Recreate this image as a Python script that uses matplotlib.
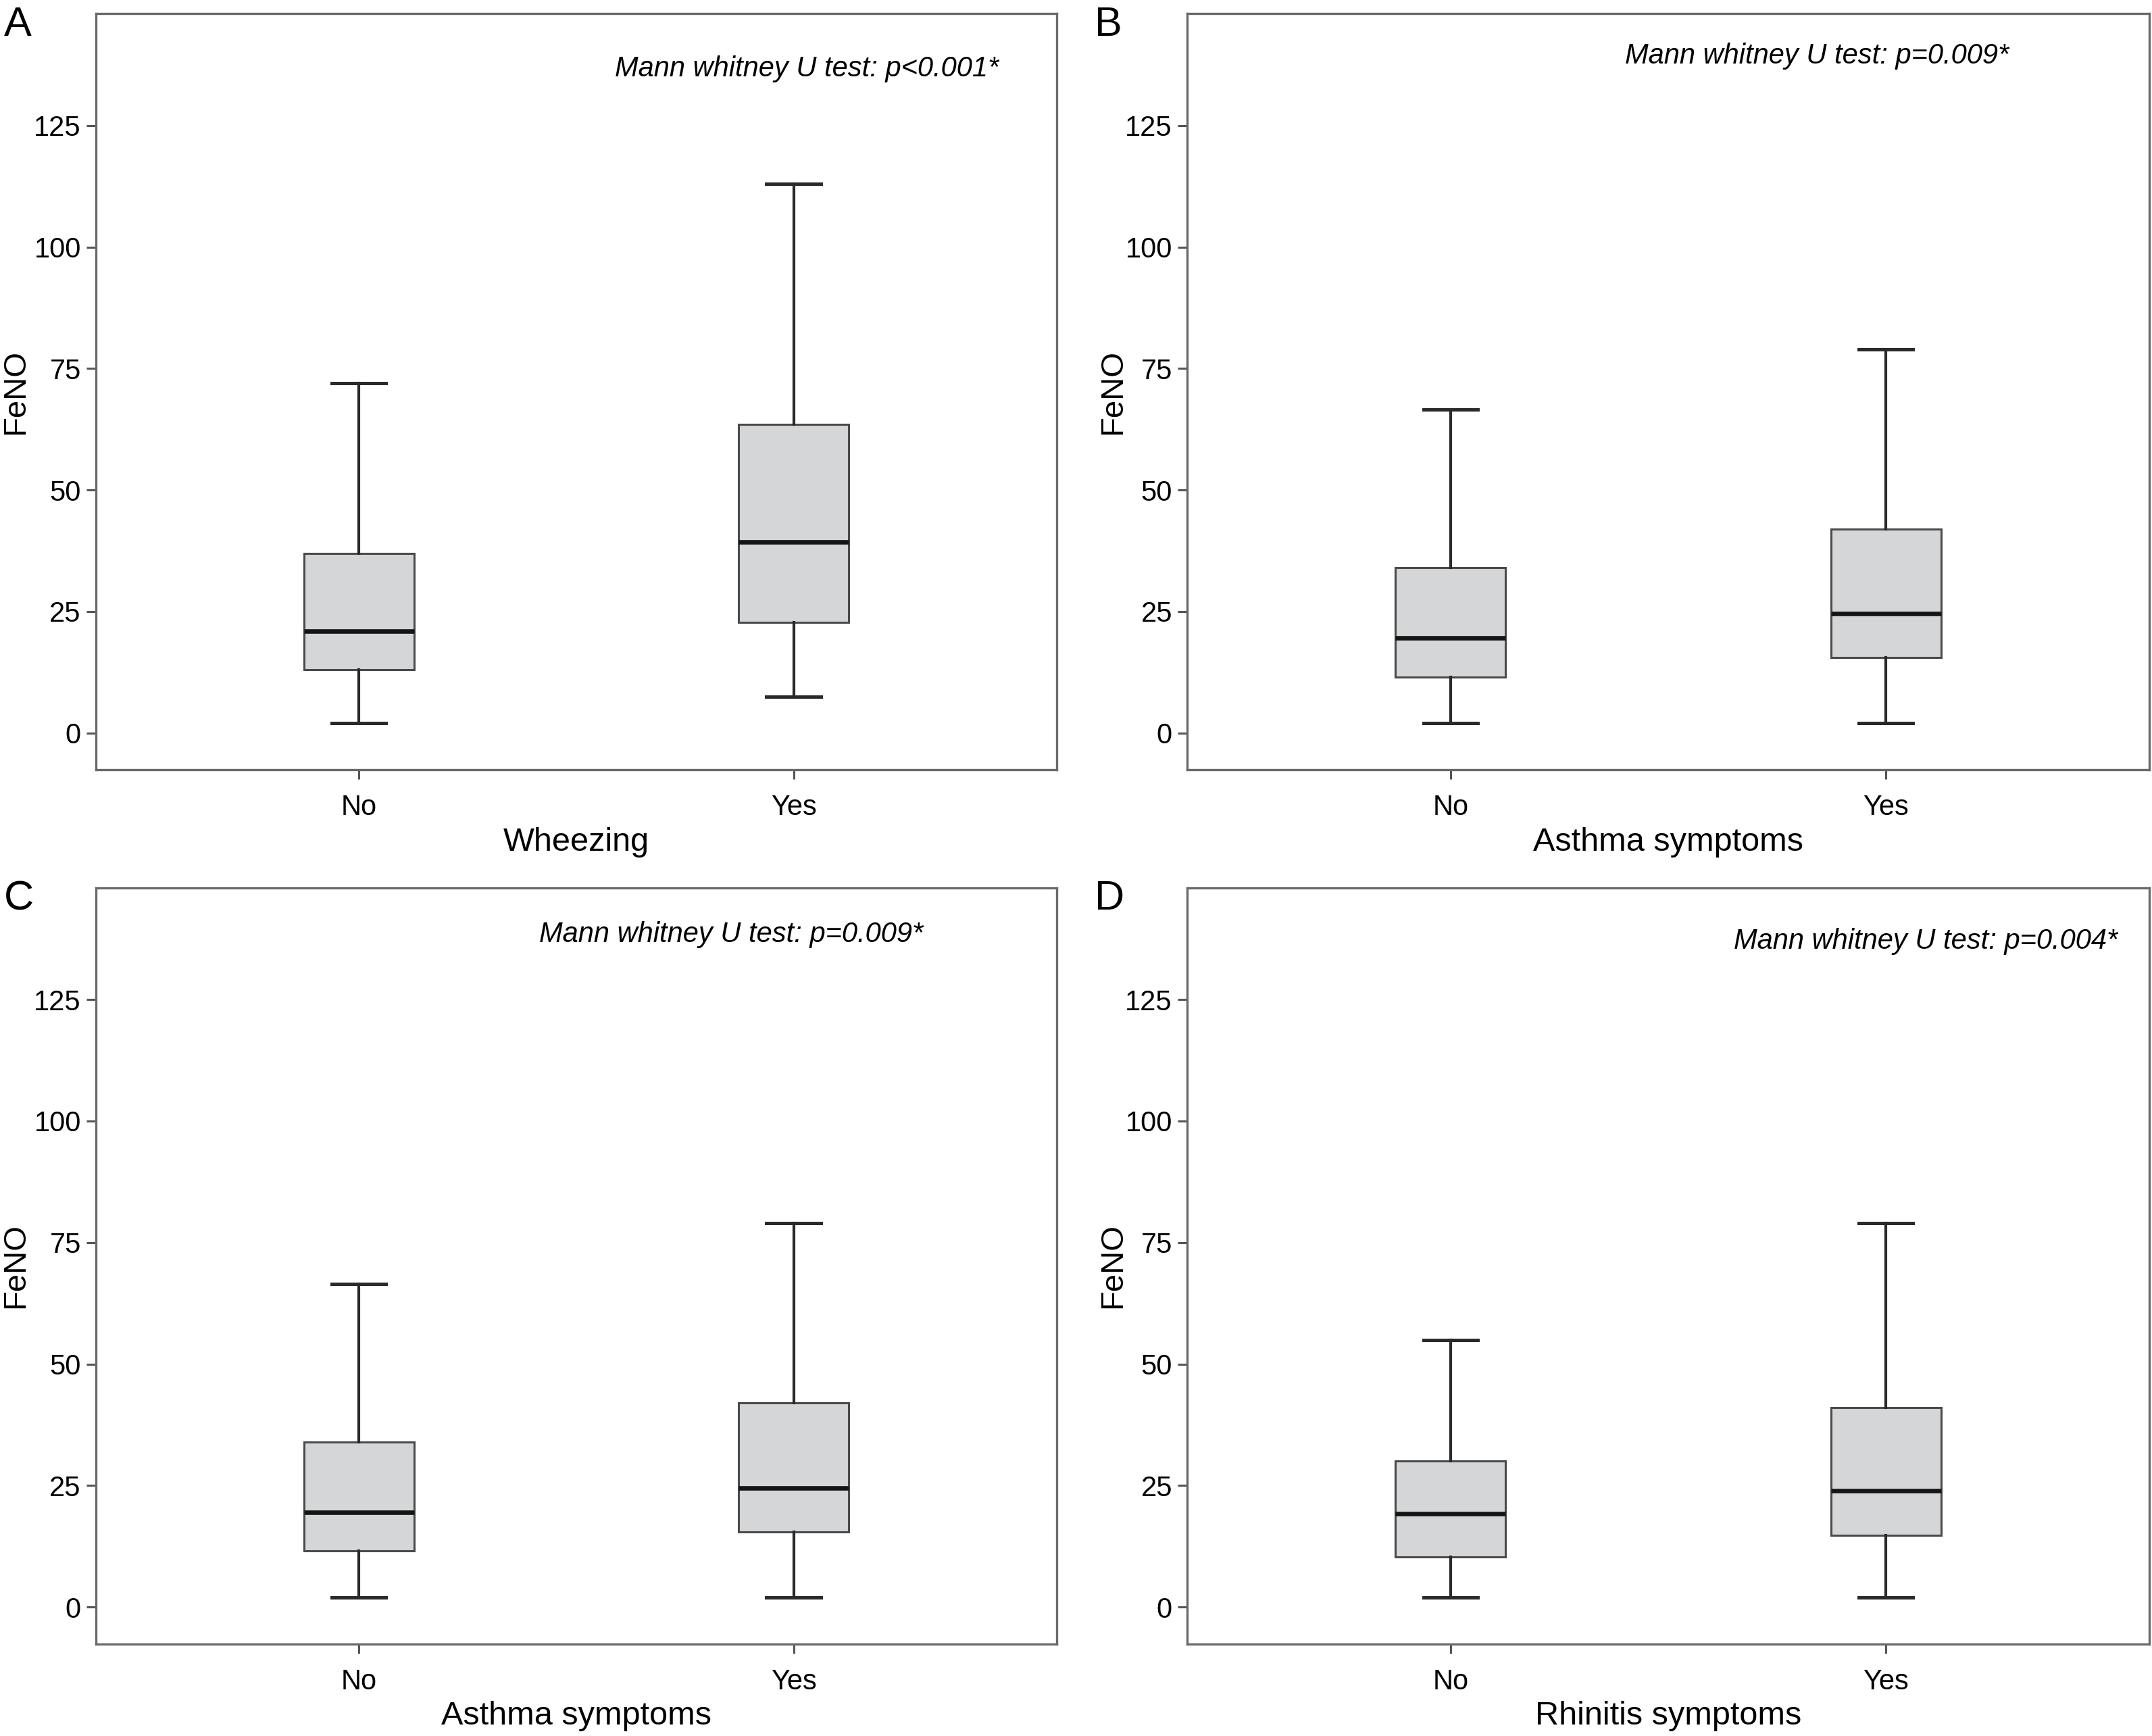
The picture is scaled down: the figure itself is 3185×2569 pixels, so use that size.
import matplotlib
matplotlib.use("Agg")
import matplotlib.pyplot as plt

plt.rcParams["font.family"] = ["Liberation Sans", "DejaVu Sans"]

# five-number summaries: low whisker, Q1, median, Q3, high whisker
groups = ["No", "Yes"]
panel_letters = ["A", "B", "C", "D"]
x_titles = ["Wheezing", "Asthma symptoms", "Asthma symptoms", "Rhinitis symptoms"]
p_texts = [
    "Mann whitney U test: p<0.001*",
    "Mann whitney U test: p=0.009*",
    "Mann whitney U test: p=0.009*",
    "Mann whitney U test: p=0.004*",
]
no_stats = [
    [2, 13, 21, 37, 72],
    [2, 11.5, 19.5, 34, 66.5],
    [2, 11.5, 19.5, 34, 66.5],
    [2, 10.3, 19.2, 30, 55],
]
yes_stats = [
    [7.5, 22.8, 39.3, 63.5, 113],
    [2, 15.5, 24.5, 42, 79],
    [2, 15.5, 24.5, 42, 79],
    [2, 14.8, 24, 41, 79],
]
y_ticks = [0, 25, 50, 75, 100, 125]

# axes placement [left, bottom, width, height] and text anchors
positions = [
    [0.0446, 0.5565, 0.4464, 0.4356],
    [0.5517, 0.5565, 0.4470, 0.4356],
    [0.0446, 0.0530, 0.4464, 0.4356],
    [0.5517, 0.0530, 0.4470, 0.4356],
]
text_xy = [(0.94, 0.927), (0.854, 0.944), (0.861, 0.938), (0.967, 0.929)]
ylabel_x = [-0.068, -0.062, -0.068, -0.062]

fig = plt.figure(figsize=(3185 / 200, 2569 / 200), dpi=200)

for i in range(4):
    ax = fig.add_axes(positions[i])
    stats = []
    for name, s in zip(groups, [no_stats[i], yes_stats[i]]):
        stats.append({"label": name, "whislo": s[0], "q1": s[1], "med": s[2],
                      "q3": s[3], "whishi": s[4], "fliers": []})
    ax.bxp(stats, positions=[1, 2], widths=0.253, patch_artist=True,
           showfliers=False,
           boxprops=dict(facecolor="#d5d6d8", edgecolor="#4a4a4a", linewidth=1.1),
           medianprops=dict(color="#151515", linewidth=2.4),
           whiskerprops=dict(color="#2a2a2a", linewidth=1.5),
           capprops=dict(color="#2a2a2a", linewidth=1.8),
           capwidths=0.125)
    ax.set_xlim(0.395, 2.605)
    ax.set_ylim(-7.6, 148)
    ax.set_yticks(y_ticks)
    ax.tick_params(axis="both", labelsize=15, color="#555555", length=5,
                   width=1.1)
    ax.tick_params(axis="y", pad=3)
    ax.tick_params(axis="x", pad=8)
    for sp in ax.spines.values():
        sp.set_color("#6a6a6a")
        sp.set_linewidth(1.2)
    ax.set_ylabel("FeNO", fontsize=17)
    ax.yaxis.set_label_coords(ylabel_x[i], 0.5)
    ax.set_xlabel(x_titles[i], fontsize=17.5, labelpad=3)
    ax.text(text_xy[i][0], text_xy[i][1], p_texts[i], transform=ax.transAxes,
            ha="right", va="center", fontsize=15, style="italic")
    ax.text(-0.096, 0.985, panel_letters[i], transform=ax.transAxes,
            ha="left", va="center", fontsize=22)

fig.savefig("out.png", dpi=200, facecolor="white")
